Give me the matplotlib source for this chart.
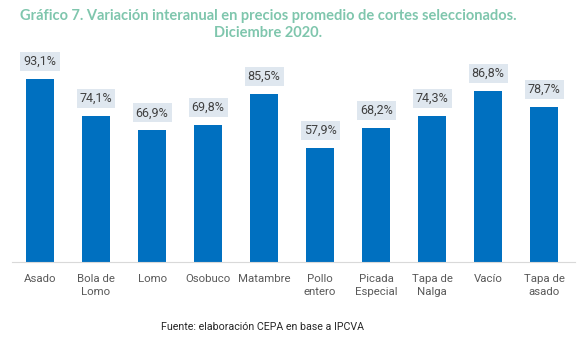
import matplotlib.pyplot as plt

cortes = ["Asado", "Bola de\nLomo", "Lomo", "Osobuco", "Matambre", "Pollo\nentero",
          "Picada\nEspecial", "Tapa de\nNalga", "Vacío", "Tapa de\nasado"]
variacion = [93.1, 74.1, 66.9, 69.8, 85.5, 57.9, 68.2, 74.3, 86.8, 78.7]

titulo = "Gráfico 7. Variación interanual en precios promedio de cortes seleccionados.\nDiciembre 2020."
fuente = "Fuente: elaboración CEPA en base a IPCVA"

fig = plt.figure(figsize=(5.81, 3.41), dpi=100)
ax = fig.add_axes([0.0207, 0.2317, 0.969, 0.5765])

x = range(len(cortes))
bars = ax.bar(x, variacion, width=0.5, color="#0070c0", zorder=2)

for b, v in zip(bars, variacion):
    ax.annotate(f"{v:.1f}%".replace(".", ","),
                xy=(b.get_x() + b.get_width() / 2, v), xytext=(0, 8),
                textcoords="offset points", ha="center", va="bottom",
                fontsize=9, color="#404040", family="Roboto",
                bbox=dict(boxstyle="square,pad=0.25", fc="#dfe7ef", ec="none"),
                annotation_clip=False)

ax.set_xlim(-0.5, 9.55)
ax.set_ylim(0, 100)
ax.set_xticks(list(x))
ax.set_xticklabels(cortes, fontsize=8.2, color="#595959", family="Roboto",
                   linespacing=1.35)
ax.tick_params(axis="x", length=0, pad=9)
ax.set_yticks([])
for s in ["top", "right", "left"]:
    ax.spines[s].set_visible(False)
ax.spines["bottom"].set_color("#d9d9d9")

fig.text(0.461, 0.975, titulo, ha="center", va="top", fontsize=10.5, weight="bold",
         color="#7fc6ad", family="Lato", linespacing=1.35)
fig.text(0.452, 0.04, fuente, ha="center", va="center", fontsize=7.7,
         color="#262626", family="Roboto")

fig.savefig("out.png", dpi=100)
